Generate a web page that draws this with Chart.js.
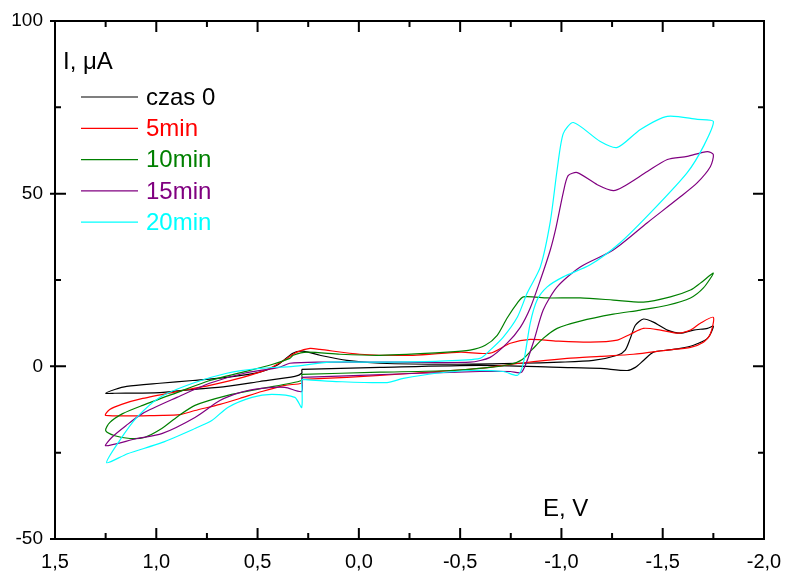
<!DOCTYPE html>
<html>
<head>
<meta charset="utf-8">
<script src="https://cdn.jsdelivr.net/npm/chart.js@4.4.0/dist/chart.umd.min.js"></script>
<style>
  body { margin: 0; background: #fff; }
  #wrap { width: 786px; height: 571px; }
</style>
</head>
<body>
<div id="wrap"><canvas id="cv" width="786" height="571"></canvas></div>
<script>
// series names + colours
const seriesNames = ['czas 0', '5min', '10min', '15min', '20min'];
const seriesColors = ['#000000', '#ff0000', '#008000', '#800080', '#00ffff'];

// axis ticks
const xTicks = [1.5, 1.0, 0.5, 0.0, -0.5, -1.0, -1.5, -2.0];
const xMinor = [1.25, 0.75, 0.25, -0.25, -0.75, -1.25, -1.75];
const yTicks = [-50, 0, 50, 100];
const yMinor = [-25, 25, 75];

// czas 0 (E in V, I in uA), closed loop
const czas0E = [0.282, -0.104, -0.598, -0.994, -1.192, -1.325, -1.365, -1.405, -1.454, -1.523, -1.587, -1.652, -1.721, -1.750,
  -1.721, -1.652, -1.587, -1.523, -1.454, -1.405, -1.365, -1.340, -1.315, -1.276, -1.157, -0.994, -0.797, -0.436, -0.104, 0.059, 0.192, 0.277, 0.326, 0.404, 0.489, 0.652, 0.820, 0.983, 1.146, 1.205, 1.250,
  1.205, 0.983, 0.820, 0.652, 0.489, 0.316, 0.282, 0.282];
const czas0I = [-0.9, -0.3, 0.3, -0.3, -0.6, -1.2, -0.3, 1.7, 4.1, 4.7, 5.2, 6.1, 8.1, 11.6,
  11.0, 10.5, 9.6, 10.5, 12.8, 13.7, 11.9, 8.1, 4.7, 3.2, 1.7, 1.2, 0.9, 0.6, 0.9, 1.7, 3.2, 4.4, 3.8, 0.3, -1.7, -3.2, -4.1, -4.9, -5.8, -6.7, -7.8,
  -7.8, -7.6, -6.7, -5.8, -4.4, -2.9, -2.0, -0.9];

// 5 min
const min5E = [0.282, 0.059, -0.267, -0.598, -0.797, -1.028, -1.192, -1.355, -1.523, -1.637, -1.701, -1.735, -1.750,
  -1.686, -1.637, -1.577, -1.489, -1.405, -1.340, -1.276, -1.142, -0.979, -0.846, -0.748, -0.648, -0.502, -0.267, -0.005, 0.192, 0.241, 0.306, 0.355, 0.440, 0.573, 0.736, 0.898, 1.067, 1.171, 1.230, 1.250,
  0.968, 0.884, 0.809, 0.686, 0.588, 0.479, 0.365, 0.282, 0.282];
const min5I = [-3.8, -3.2, -2.0, -0.6, 0.9, 2.3, 2.9, 3.5, 4.7, 5.5, 7.0, 9.3, 14.2,
  12.5, 10.5, 9.6, 10.5, 11.0, 9.3, 7.6, 7.0, 7.3, 7.8, 6.7, 3.8, 4.1, 3.2, 3.5, 4.9, 5.2, 4.1, 2.3, -0.6, -3.2, -5.5, -7.3, -9.3, -11.0, -12.5, -14.2,
  -14.2, -14.0, -12.8, -11.0, -9.3, -7.3, -5.5, -4.9, -3.8];

// 10 min
const min10E = [0.282, -0.104, -0.451, -0.648, -0.748, -0.807, -0.856, -0.910, -0.979, -1.093, -1.256, -1.390, -1.523, -1.637, -1.701, -1.750,
  -1.686, -1.637, -1.538, -1.405, -1.256, -1.093, -0.930, -0.812, -0.782, -0.732, -0.683, -0.624, -0.549, -0.436, -0.104, 0.093, 0.256, 0.324, 0.341, 0.425, 0.573, 0.736, 0.898, 1.067, 1.166, 1.230, 1.250,
  1.205, 1.130, 1.059, 0.973, 0.894, 0.809, 0.647, 0.479, 0.282, 0.282];
const min10I = [-2.3, -1.7, -1.2, -0.3, 0.6, 2.0, 4.9, 8.1, 11.0, 13.1, 15.1, 16.3, 17.7, 19.8, 22.7, 27.0,
  24.1, 22.1, 20.1, 18.6, 19.2, 19.8, 19.8, 20.1, 18.3, 14.0, 9.0, 6.1, 4.7, 4.1, 3.2, 3.5, 4.1, 3.2, 2.3, 0.6, -1.7, -4.1, -7.6, -11.3, -13.7, -16.3, -18.6,
  -20.1, -20.9, -20.6, -18.0, -14.5, -11.3, -8.4, -6.4, -4.1, -2.3];

// 15 min
const min15E = [0.282, -0.008, -0.300, -0.598, -0.748, -0.804, -0.860, -0.910, -0.979, -1.093, -1.256, -1.424, -1.587, -1.671, -1.735, -1.750,
  -1.720, -1.621, -1.523, -1.424, -1.305, -1.256, -1.177, -1.078, -1.033, -1.009, -0.974, -0.945, -0.896, -0.846, -0.797, -0.732, -0.648, -0.549, -0.204, 0.192, 0.341, 0.394, 0.566, 0.737, 0.898, 1.069, 1.150, 1.220, 1.250,
  1.096, 0.973, 0.809, 0.686, 0.588, 0.479, 0.365, 0.282, 0.282];
const min15I = [-3.2, -2.6, -2.0, -1.5, -1.5, -1.7, 6.7, 16.3, 23.0, 28.8, 33.7, 41.6, 49.1, 53.2, 57.8, 61.3,
  62.2, 60.8, 59.9, 56.4, 52.0, 50.9, 52.6, 56.1, 55.2, 50.3, 40.4, 33.7, 25.0, 16.9, 11.3, 6.7, 2.6, 1.2, 1.2, 1.2, 0.9, -0.3, -2.0, -4.9, -9.0, -13.7, -17.2, -20.6, -23.0,
  -20.9, -19.5, -14.8, -9.9, -7.6, -6.4, -6.1, -7.3, -3.2];

// 20 min
const min20E = [0.282, 0.112, -0.139, -0.220, -0.381, -0.552, -0.713, -0.784, -0.812, -0.846, -0.880, -0.930, -1.009, -1.142, -1.290, -1.453, -1.621, -1.701, -1.750,
  -1.671, -1.523, -1.390, -1.276, -1.192, -1.059, -1.009, -0.979, -0.945, -0.896, -0.831, -0.782, -0.712, -0.648, -0.598, -0.401, -0.104, 0.143, 0.324, 0.489, 0.652, 0.820, 0.983, 1.096, 1.181, 1.245,
  1.142, 0.973, 0.809, 0.726, 0.647, 0.528, 0.430, 0.316, 0.282, 0.282];
const min20I = [-3.8, -4.4, -4.7, -3.5, -2.0, -1.2, -1.5, -2.6, 0.9, 12.5, 19.2, 23.0, 25.9, 29.4, 35.8, 45.3, 56.1, 63.7, 70.9,
  71.5, 72.4, 68.6, 63.4, 65.1, 70.6, 67.4, 57.0, 41.9, 28.8, 21.2, 14.2, 8.4, 4.7, 2.3, 1.5, 1.2, 1.2, 0, -0.6, -2.0, -4.9, -9.0, -14.8, -21.5, -27.9,
  -25.3, -22.1, -18.0, -15.7, -11.9, -9.0, -8.1, -9.0, -11.9, -3.8];

const seriesE = [czas0E, min5E, min10E, min15E, min20E];
const seriesI = [czas0I, min5I, min10I, min15I, min20I];

const FONT = '"Liberation Sans", Arial, sans-serif';

function zip(es, is) {
    return es.map((e, k) => ({ x: e, y: is[k] }));
}

const datasets = seriesNames.map((name, k) => ({
    label: name,
    data: zip(seriesE[k], seriesI[k]),
    borderColor: seriesColors[k],
    borderWidth: 1.2,
    pointRadius: 0,
    showLine: true,
    fill: false,
    tension: 0.25,
    order: 5 - k
}));

// frame, inward ticks, legend and axis titles
const framePlugin = {
    id: 'frame',
    afterDraw(chart) {
        const ctx = chart.ctx;
        const a = chart.chartArea;
        const xs = chart.scales.x, ys = chart.scales.y;
        ctx.save();
        ctx.strokeStyle = '#000';
        ctx.lineWidth = 2;
        ctx.strokeRect(a.left, a.top, a.right - a.left, a.bottom - a.top);

        ctx.beginPath();
        xTicks.forEach(v => {
            const px = xs.getPixelForValue(v);
            ctx.moveTo(px, a.bottom); ctx.lineTo(px, a.bottom - 11);
            ctx.moveTo(px, a.top); ctx.lineTo(px, a.top + 11);
        });
        xMinor.forEach(v => {
            const px = xs.getPixelForValue(v);
            ctx.moveTo(px, a.bottom); ctx.lineTo(px, a.bottom - 6);
            ctx.moveTo(px, a.top); ctx.lineTo(px, a.top + 6);
        });
        yTicks.forEach(v => {
            const py = ys.getPixelForValue(v);
            ctx.moveTo(a.left - 5, py); ctx.lineTo(a.left + 11, py);
            ctx.moveTo(a.right, py); ctx.lineTo(a.right - 11, py);
        });
        yMinor.forEach(v => {
            const py = ys.getPixelForValue(v);
            ctx.moveTo(a.left, py); ctx.lineTo(a.left + 6, py);
            ctx.moveTo(a.right, py); ctx.lineTo(a.right - 6, py);
        });
        ctx.stroke();

        // axis titles
        ctx.fillStyle = '#000';
        ctx.font = '24px ' + FONT;
        ctx.textBaseline = 'middle';
        ctx.textAlign = 'left';
        ctx.fillText('I, \u03bcA', 63, 62);
        ctx.fillText('E, V', 543, 509);

        // legend
        seriesNames.forEach((name, k) => {
            const y = 97 + k * 31.3;
            ctx.strokeStyle = seriesColors[k];
            ctx.lineWidth = 1.2;
            ctx.beginPath();
            ctx.moveTo(81, y); ctx.lineTo(138, y);
            ctx.stroke();
            ctx.fillStyle = seriesColors[k];
            ctx.fillText(name, 146, y + 1);
        });
        ctx.restore();
    }
};

new Chart(document.getElementById('cv').getContext('2d'), {
    type: 'scatter',
    data: { datasets: datasets },
    options: {
        responsive: false,
        animation: false,
        layout: { padding: { top: 21, right: 22, left: 0, bottom: 0 } },
        plugins: { legend: { display: false }, tooltip: { enabled: false } },
        scales: {
            x: {
                type: 'linear',
                reverse: true,
                min: -2.0,
                max: 1.5,
                afterBuildTicks: s => { s.ticks = xTicks.map(v => ({ value: v })); },
                afterFit: s => { s.height = 32; s.paddingLeft = 0; s.paddingRight = 0; },
                grid: { display: false, drawTicks: false },
                border: { display: false },
                ticks: {
                    padding: 11,
                    color: '#000',
                    font: { family: FONT, size: 20 },
                    maxRotation: 0,
                    callback: v => v.toFixed(1).replace('.', ',')
                }
            },
            y: {
                type: 'linear',
                min: -50,
                max: 100,
                afterBuildTicks: s => { s.ticks = yTicks.map(v => ({ value: v })); },
                afterFit: s => { s.width = 55; s.paddingTop = 0; s.paddingBottom = 0; },
                grid: { display: false, drawTicks: false },
                border: { display: false },
                ticks: {
                    padding: 12,
                    color: '#000',
                    font: { family: FONT, size: 19 },
                    callback: v => String(v)
                }
            }
        }
    },
    plugins: [framePlugin]
});
</script>
</body>
</html>
